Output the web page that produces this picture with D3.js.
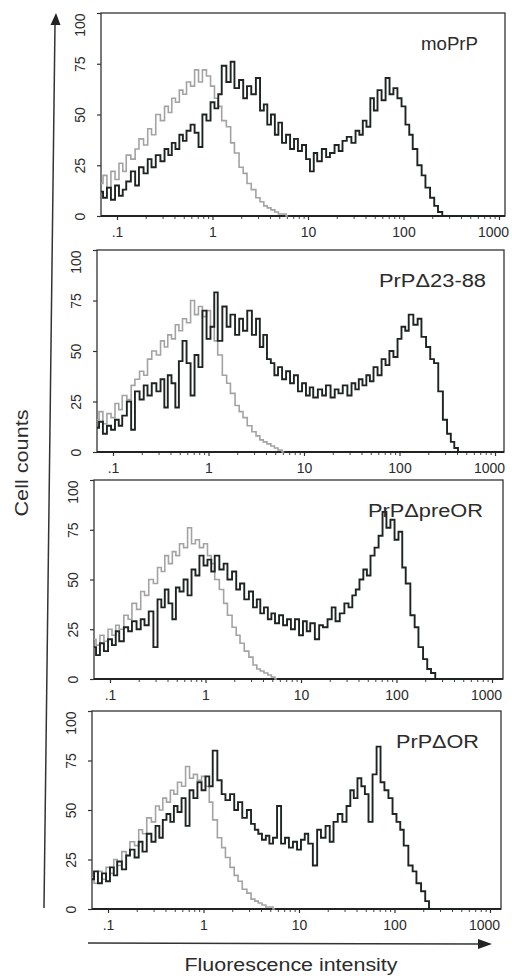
<!DOCTYPE html>
<html>
<head>
<meta charset="utf-8">
<script src="https://cdn.jsdelivr.net/npm/d3@7"></script>
<style>
  body { margin: 0; background: #fff; }
  svg { display: block; }
  text { font-family: "Liberation Sans", Arial, Helvetica, sans-serif; fill: #2b2b2b; }
</style>
</head>
<body>
<svg id="chart" width="512" height="978"></svg>
<script>
// histogram channels (fluorescence intensity, log spaced)
const bins = [0.068,0.075,0.082,0.091,
  0.1,0.11,0.12,0.13,0.15,0.16,0.18,0.2,0.22,0.24,0.27,0.3,0.33,0.36,0.39,0.43,0.47,0.51,0.56,0.62,0.68,0.75,0.82,0.91,
  1,1.1,1.2,1.3,1.5,1.6,1.8,2,2.2,2.4,2.7,3,3.3,3.6,3.9,4.3,4.7,5.1,5.6,6.2,6.8,7.5,8.2,9.1,
  10,11,12,13,15,16,18,20,22,24,27,30,33,36,39,43,47,51,56,62,68,75,82,91,
  100,110,120,130,150,160,180,200,220,240,270,300,330,360,390,430,470,510,560]

const xTicks = [0.1, 1, 10, 100, 1000]
const xTickLabels = ['.1', '1', '10', '100', '1000']
const yTicks = [0, 25, 50, 75, 100]
const panelNames = ['moPrP', 'PrP\u039423-88', 'PrP\u0394preOR', 'PrP\u0394OR']

// control (light grey) curves
const ctrlMoPrP = [16,20,14,22,
  18,26,22,30,28,33,38,35,43,40,50,47,54,51,58,56,62,60,66,64,72,66,72,69,
  64,58,54,47,44,36,31,24,21,16,13,9,7,5,4,3,2,1,1,0]
const ctrlD23 = [16,20,14,19,
  17,24,21,28,26,33,36,40,38,46,50,48,55,52,58,56,63,60,66,64,75,68,72,67,
  70,62,55,48,38,34,29,23,20,17,13,10,8,6,5,4,3,2,1,0]
const ctrlPreOR = [20,17,22,19,
  25,22,27,25,32,30,38,35,44,42,50,48,56,54,62,58,64,62,68,66,76,68,70,66,
  68,62,58,50,45,38,32,26,22,18,14,11,7,5,4,3,2,1,0]
const ctrlOR = [16,13,19,15,
  21,18,25,22,29,27,34,32,40,38,46,44,52,50,56,54,60,58,64,62,72,66,68,65,
  67,62,54,45,36,31,26,21,17,14,10,8,5,4,3,2,1,1,0]

// PrP stained (dark) curves
const prpMoPrP = [12,9,14,8,
  15,10,13,17,22,15,24,21,28,24,30,27,33,30,36,33,40,37,42,45,41,34,50,47,
  56,53,60,74,66,76,63,67,58,64,60,68,52,55,45,50,40,46,36,40,33,38,32,35,
  28,22,31,27,33,29,31,35,32,37,39,36,42,40,47,44,58,52,62,57,68,60,63,58,
  54,45,40,33,25,20,14,9,5,2,0,0,0,0,0,0,0,0,0]
const prpD23 = [12,15,9,13,
  11,16,13,18,25,11,30,26,33,28,34,30,36,22,38,34,22,45,55,44,28,48,42,70,
  56,62,79,55,72,62,68,58,66,60,70,58,66,52,58,46,44,38,42,36,40,34,38,30,
  34,28,32,27,31,28,33,27,31,29,33,28,34,31,36,33,38,35,42,38,46,43,50,47,
  56,62,60,68,63,66,57,52,46,44,30,16,9,5,2,0,0,0,0]
const prpPreOR = [16,12,18,14,
  20,17,24,19,26,24,29,25,30,27,34,16,40,36,45,38,30,46,44,50,42,55,52,62,
  57,60,54,62,55,58,50,54,45,48,40,44,36,40,33,36,30,33,28,32,27,30,25,30,
  22,29,24,28,20,27,26,30,36,29,33,38,36,42,45,50,55,52,62,66,72,84,76,80,
  70,74,56,48,32,26,16,10,5,3,0,0,0,0,0,0,0,0,0]
const prpOR = [15,19,13,18,
  14,21,17,24,20,27,30,26,34,29,38,34,42,36,45,48,44,52,49,56,42,60,56,64,
  60,67,62,80,65,58,55,58,50,54,46,50,43,40,38,35,37,33,36,52,33,36,31,34,
  30,35,38,33,22,40,36,42,34,44,48,44,52,60,56,66,62,58,44,68,82,64,60,56,
  48,44,40,32,22,19,13,9,4,0,0,0,0,0,0,0,0,0,0]

const ctrlSeries = [ctrlMoPrP, ctrlD23, ctrlPreOR, ctrlOR]
const prpSeries = [prpMoPrP, prpD23, prpPreOR, prpOR]

// panel frames (the scan is a little skewed, so each panel has its own box)
const layout = [
  {left: 101, right: 505, top: 13, bottom: 216, labelRight: 478, labelW: 57},
  {left: 97, right: 504, top: 250, bottom: 452, labelRight: 486, labelW: 107},
  {left: 94, right: 503, top: 480, bottom: 679, labelRight: 483, labelW: 115},
  {left: 92, right: 501, top: 711, bottom: 909, labelRight: 479, labelW: 83}
]

const svg = d3.select('#chart')

layout.forEach((p, i) => {
  const xScale = d3.scaleLog()
    .domain([0.1, 1000])
    .range([p.left + 16, p.left + 398])

  const yScale = d3.scaleLinear()
    .domain([0, 100])
    .range([p.bottom, p.top])

  const g = svg.append('g')

  // frame
  g.append('rect')
    .attr('x', p.left)
    .attr('y', p.top)
    .attr('width', p.right - p.left)
    .attr('height', p.bottom - p.top)
    .attr('fill', 'none')
    .attr('stroke', '#333')
    .attr('stroke-width', 1.3)

  // x axis, major + minor ticks
  const xAxis = g.append('g')
    .attr('transform', `translate(0,${p.bottom})`)
    .call(d3.axisBottom(xScale)
      .tickValues(xTicks)
      .tickFormat((d, k) => xTickLabels[k])
      .tickSize(4))
  xAxis.select('.domain').remove()
  xAxis.selectAll('line').attr('stroke', '#333').attr('stroke-width', 1.2)
  xAxis.selectAll('text')
    .attr('y', 21)
    .attr('dy', 0)
    .attr('dx', d => d === 1000 ? -6 : 0)
    .style('font-size', '14px')
    .style('fill', '#2b2b2b')

  const minor = g.append('g')
    .attr('transform', `translate(0,${p.bottom})`)
    .call(d3.axisBottom(xScale)
      .tickValues(xScale.ticks().filter(d => !xTicks.includes(d)))
      .tickFormat('')
      .tickSize(3))
  minor.select('.domain').remove()
  minor.selectAll('line').attr('stroke', '#444')

  g.append('line')
    .attr('x1', p.left).attr('x2', p.right)
    .attr('y1', p.bottom).attr('y2', p.bottom)
    .attr('stroke', '#222')
    .attr('stroke-width', 2)

  // y axis with rotated labels
  const yAxis = g.append('g')
    .attr('transform', `translate(${p.left},0)`)
    .call(d3.axisLeft(yScale).tickValues(yTicks).tickSize(4))
  yAxis.select('.domain').remove()
  yAxis.selectAll('line').attr('stroke', '#333').attr('stroke-width', 1.2)
  yAxis.selectAll('text')
    .attr('transform', 'rotate(-90)')
    .attr('x', 0)
    .attr('y', -16)
    .attr('dy', 0)
    .attr('text-anchor', d => d === 100 ? 'end' : 'middle')
    .style('font-size', '14px')
    .style('fill', '#2b2b2b')

  const line = d3.line()
    .x(d => xScale(d[0]))
    .y(d => yScale(d[1]))
    .curve(d3.curveStep)

  // control histogram
  g.append('path')
    .datum(d3.zip(bins, ctrlSeries[i]))
    .attr('fill', 'none')
    .attr('stroke', '#a3a3a3')
    .attr('stroke-width', 1.6)
    .attr('d', line)

  // stained histogram
  g.append('path')
    .datum(d3.zip(bins, prpSeries[i]))
    .attr('fill', 'none')
    .attr('stroke', '#1e2422')
    .attr('stroke-width', 1.9)
    .attr('d', line)

  // panel name
  g.append('text')
    .attr('x', p.labelRight)
    .attr('y', p.top + 37)
    .attr('text-anchor', 'end')
    .attr('textLength', p.labelW)
    .attr('lengthAdjust', 'spacingAndGlyphs')
    .style('font-size', '18px')
    .text(panelNames[i])
})

// y arrow (slightly slanted like the scan)
svg.append('line')
  .attr('x1', 44).attr('y1', 908)
  .attr('x2', 55).attr('y2', 24)
  .attr('stroke', '#333')
  .attr('stroke-width', 1.5)
svg.append('path')
  .attr('d', 'M56,13 L60.5,25 L50.5,25 Z')
  .attr('fill', '#222')

// x arrow
svg.append('line')
  .attr('x1', 88).attr('y1', 943)
  .attr('x2', 480).attr('y2', 944)
  .attr('stroke', '#333')
  .attr('stroke-width', 1.5)
svg.append('path')
  .attr('d', 'M492,944 L478,939 L478,949 Z')
  .attr('fill', '#222')

// axis titles
svg.append('text')
  .attr('transform', 'translate(28,463) rotate(-90)')
  .attr('text-anchor', 'middle')
  .attr('textLength', 107)
  .attr('lengthAdjust', 'spacingAndGlyphs')
  .style('font-size', '19px')
  .text('Cell counts')

svg.append('text')
  .attr('x', 291)
  .attr('y', 971)
  .attr('text-anchor', 'middle')
  .attr('textLength', 213)
  .attr('lengthAdjust', 'spacingAndGlyphs')
  .style('font-size', '18px')
  .text('Fluorescence intensity')
</script>
</body>
</html>
